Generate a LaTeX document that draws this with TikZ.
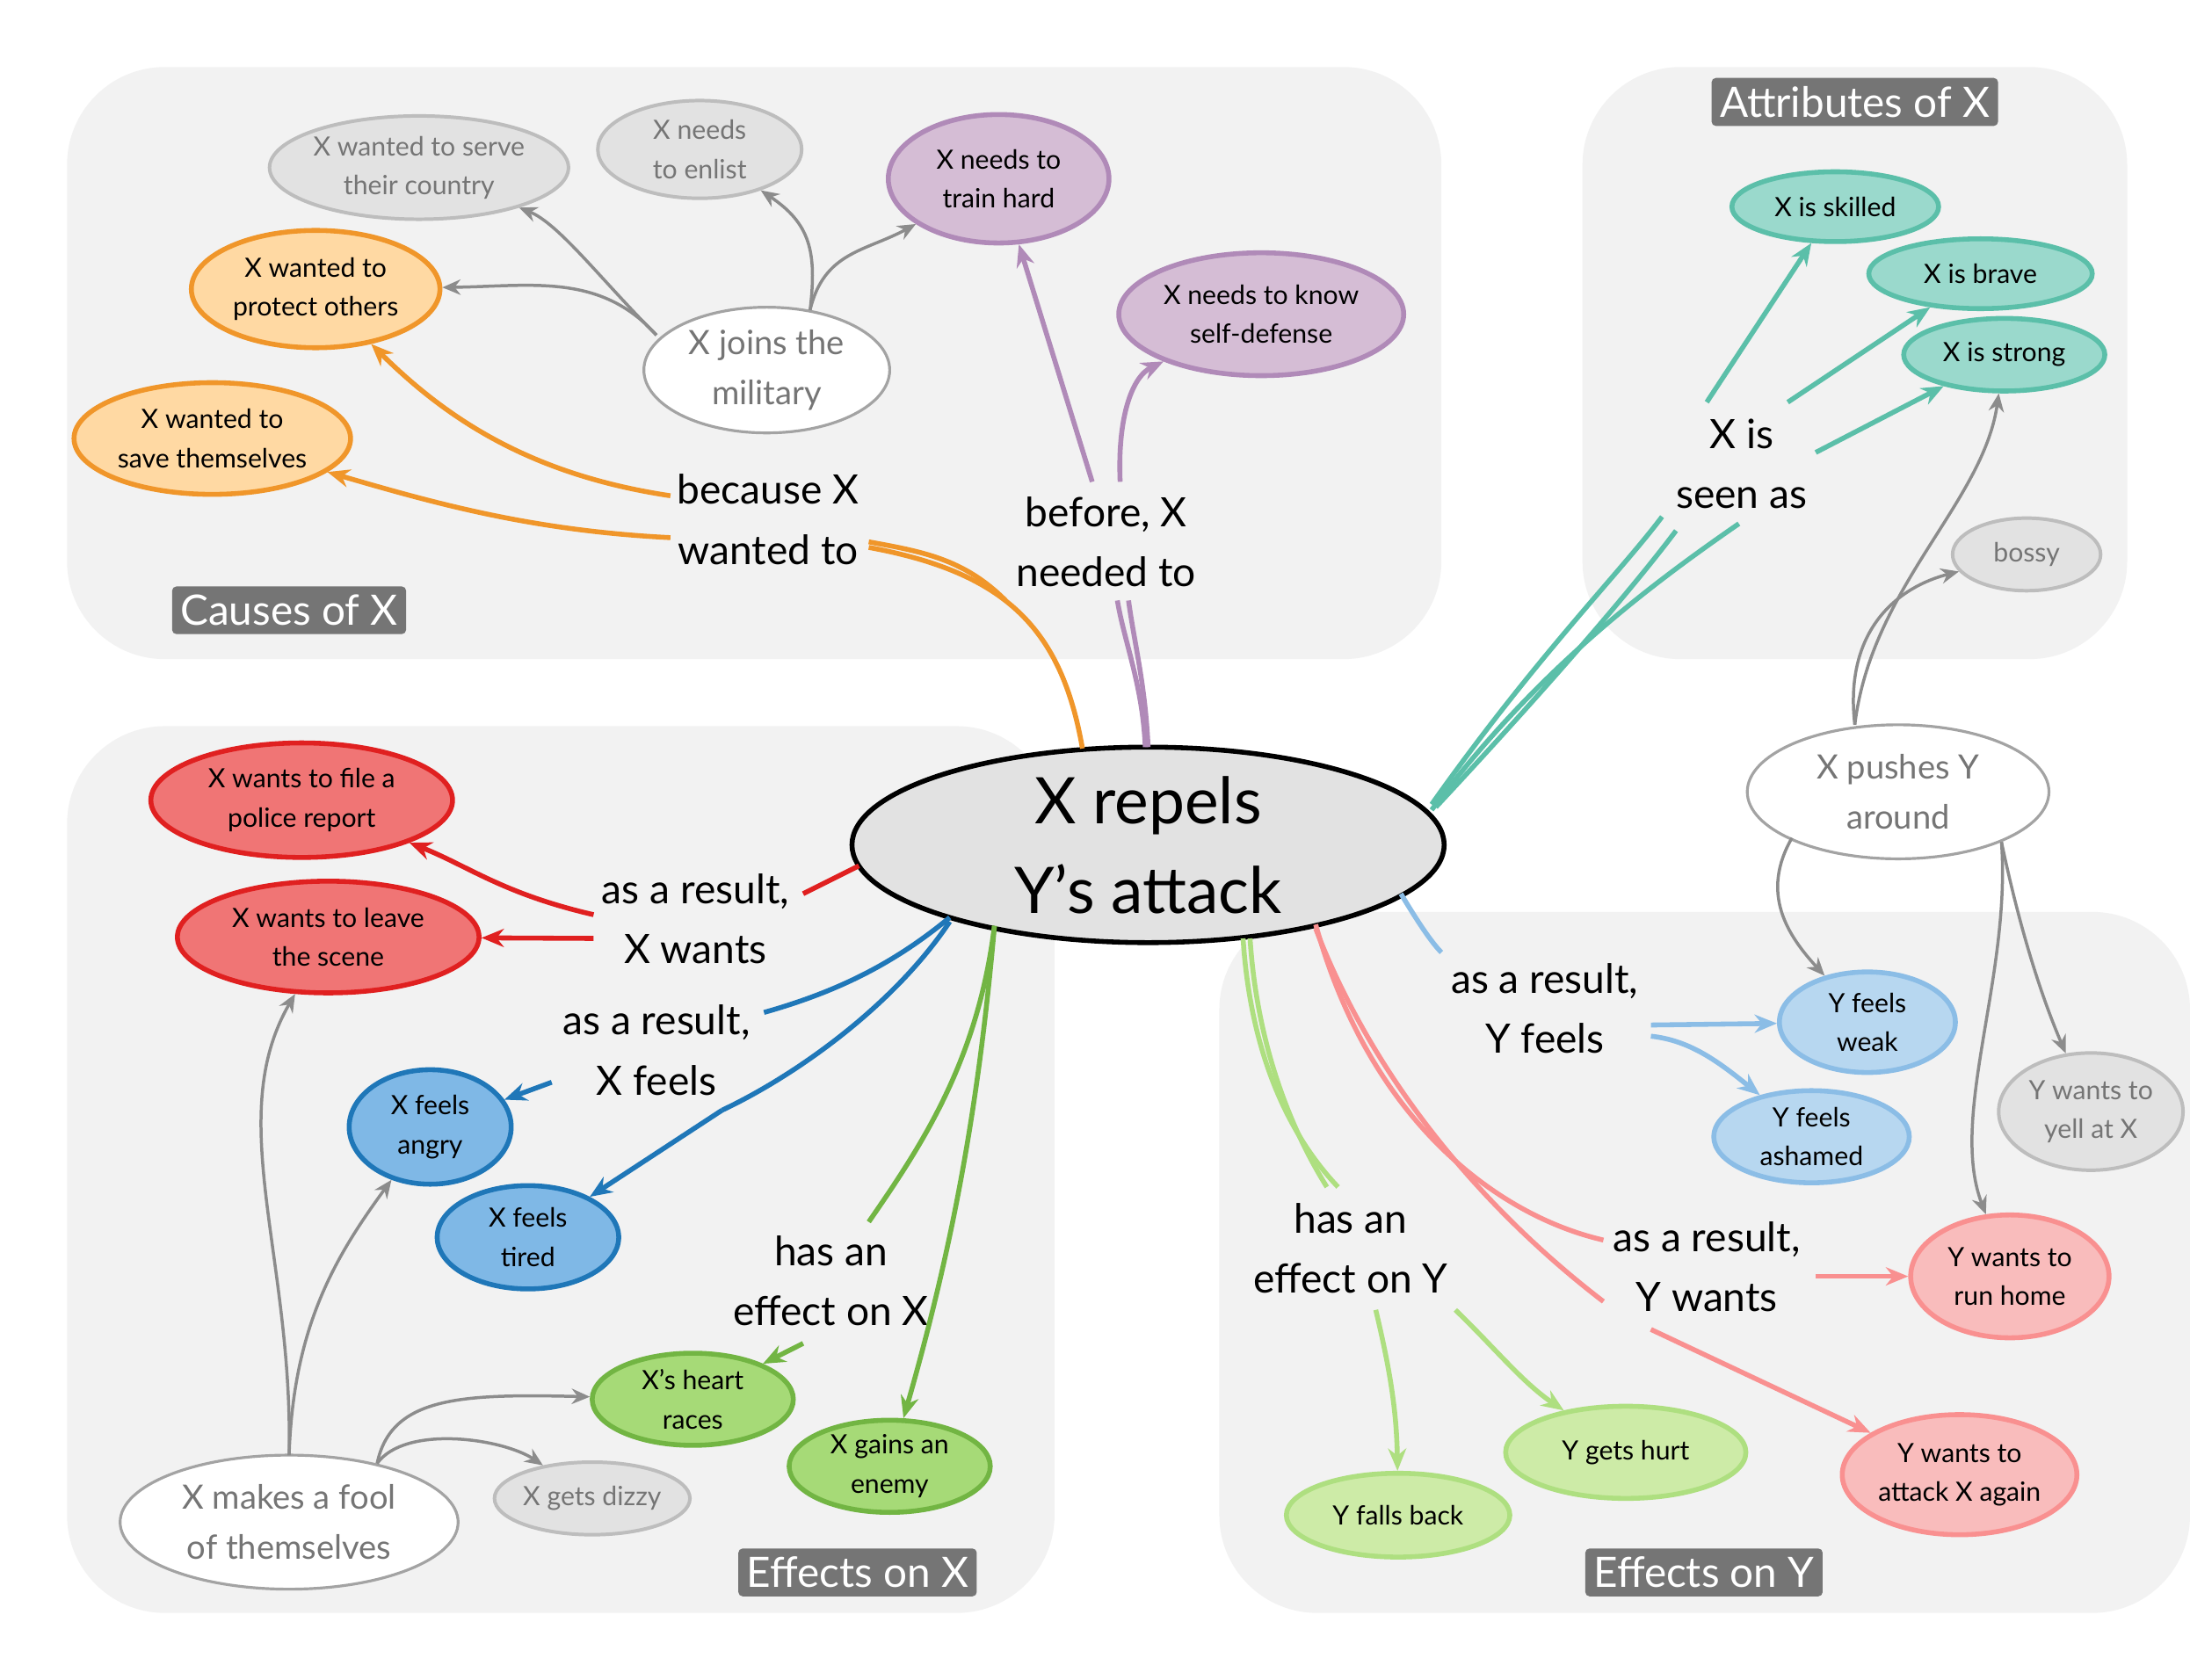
\documentclass[tikz,border=0pt]{standalone}
\usepackage{fontspec}
\setmainfont{Lato}
\usetikzlibrary{shapes.geometric,arrows.meta}
\definecolor{bg}{HTML}{F2F2F2}
\definecolor{tag}{HTML}{757575}
\definecolor{gfill}{HTML}{E2E2E2}\definecolor{gline}{HTML}{BDBDBD}\definecolor{gtext}{HTML}{757575}
\definecolor{pfill}{HTML}{D5BDD5}\definecolor{pline}{HTML}{B08AB8}
\definecolor{ofill}{HTML}{FFD9A3}\definecolor{oline}{HTML}{F0962A}
\definecolor{tfill}{HTML}{9AD9CC}\definecolor{tline}{HTML}{5BBFA9}
\definecolor{rfill}{HTML}{F07575}\definecolor{rline}{HTML}{E02020}
\definecolor{bfill}{HTML}{7FB8E6}\definecolor{bline}{HTML}{1F77B8}
\definecolor{Gfill}{HTML}{A6DA77}\definecolor{Gline}{HTML}{72B543}
\definecolor{lbfill}{HTML}{B7D7F0}\definecolor{lbline}{HTML}{8BBDE6}
\definecolor{pkfill}{HTML}{F9BCBC}\definecolor{pkline}{HTML}{F99090}
\definecolor{lgfill}{HTML}{CDEBA7}\definecolor{lgline}{HTML}{AEDF80}
\definecolor{edgegray}{HTML}{8C8C8C}
\tikzset{
 x=1pt,y=-1pt,
 el/.style n args={4}{ellipse,inner sep=0pt,minimum width=#1,minimum height=#2,fill=#3,draw=#4,line width=3.5pt,align=center,font=\fontsize{19}{28}\selectfont},
 gnode/.style 2 args={el={#1}{#2}{gfill}{gline},line width=2.5pt,text=gtext},
 wnode/.style 2 args={el={#1}{#2}{white}{edgegray!80},line width=2pt,text=gtext,font=\fontsize{24}{36}\selectfont},
 lab/.style={align=center,font=\fontsize{29}{43}\selectfont,inner sep=2pt},
 tagn/.style={fill=tag,text=white,font=\fontsize{30}{36}\selectfont,inner sep=6pt,rounded corners=3pt},
 arr/.style={line width=3.5pt,draw=#1,-{Stealth[length=16pt,width=13pt]}},
 ln/.style={line width=3.5pt,draw=#1},
 garr/.style={line width=2.2pt,draw=edgegray,-{Stealth[length=13pt,width=11pt]}},
 box/.style={fill=bg,rounded corners=70pt}
}
\begin{document}
\begin{tikzpicture}
\useasboundingbox (0,0) rectangle (1568,1203);
\fill[white] (0,0) rectangle (1568,1203);
\fill[box] (48,48) rectangle (1032,472);
\fill[box] (1133,48) rectangle (1523,472);
\fill[box] (48,520) rectangle (755,1155);
\fill[box] (873,653) rectangle (1568,1155);
\node[tagn] (t1) at (207,437) {Causes of X};
\node[tagn] (t2) at (1328,73) {Attributes of X};
\node[tagn] (t3) at (614,1126) {Effects on X};
\node[tagn] (t4) at (1220,1126) {Effects on Y};

% nodes
\node[gnode={200pt}{74pt}] (serve) at (300,120) {X wanted to serve\\their country};
\node[gnode={146pt}{70pt}] (enlist) at (501,107) {X needs\\to enlist};
\node[el={158pt}{92pt}{pfill}{pline}] (train) at (715,128) {X needs to\\train hard};
\node[el={204pt}{88pt}{pfill}{pline}] (self) at (903,225) {X needs to know\\self-defense};
\node[el={178pt}{84pt}{ofill}{oline}] (protect) at (226,207) {X wanted to\\protect others};
\node[el={198pt}{80pt}{ofill}{oline}] (save) at (152,314) {X wanted to\\save themselves};
\node[wnode={176pt}{90pt}] (mil) at (549,265) {X joins the\\military};
\node[el={148pt}{50pt}{tfill}{tline}] (skilled) at (1314,148) {X is skilled};
\node[el={160pt}{50pt}{tfill}{tline}] (brave) at (1418,196) {X is brave};
\node[el={144pt}{52pt}{tfill}{tline}] (strong) at (1435,254) {X is strong};
\node[gnode={106pt}{52pt}] (bossy) at (1451,397) {bossy};
\node[wnode={216pt}{96pt}] (push) at (1359,567) {X pushes Y\\around};
\node[el={216pt}{82pt}{rfill}{rline}] (file) at (216,573) {X wants to file a\\police report};
\node[el={216pt}{80pt}{rfill}{rline}] (leave) at (235,671) {X wants to leave\\the scene};
\node[el={116pt}{82pt}{bfill}{bline}] (angry) at (308,807) {X feels\\angry};
\node[el={130pt}{74pt}{bfill}{bline}] (tired) at (378,886) {X feels\\tired};
\node[el={144pt}{66pt}{Gfill}{Gline}] (heart) at (496,1002) {X's heart\\races};
\node[el={144pt}{66pt}{Gfill}{Gline}] (enemy) at (637,1050) {X gains an\\enemy};
\node[gnode={134pt}{52pt}] (dizzy) at (424,1073) {X gets dizzy};
\node[wnode={242pt}{96pt}] (fool) at (207,1090) {X makes a fool\\of themselves};
\node[el={126pt}{72pt}{lbfill}{lbline}] (weak) at (1337,732) {Y feels\\weak};
\node[el={140pt}{66pt}{lbfill}{lbline}] (ashamed) at (1297,814) {Y feels\\ashamed};
\node[gnode={132pt}{84pt}] (yell) at (1497,796) {Y wants to\\yell at X};
\node[el={142pt}{88pt}{pkfill}{pkline}] (run) at (1439,914) {Y wants to\\run home};
\node[el={168pt}{86pt}{pkfill}{pkline}] (again) at (1403,1056) {Y wants to\\attack X again};
\node[el={172pt}{66pt}{lgfill}{lgline}] (hurt) at (1164,1040) {Y gets hurt};
\node[el={160pt}{60pt}{lgfill}{lgline}] (falls) at (1001,1085) {Y falls back};

\node[ellipse,draw=black,fill=gfill,line width=3.5pt,minimum width=424pt,minimum height=140pt,inner sep=0pt,align=center,font=\fontsize{46}{64}\selectfont] (c) at (822,605) {X repels\\Y's attack};

% labels
\node[lab] (Lbec) at (550,372) {because X\\wanted to};
\node[lab] (Lbef) at (792,388) {before, X\\needed to};
\node[lab] (Lseen) at (1247,332) {X is\\seen as};
\node[lab] (Lxw) at (498,658) {as a result,\\X wants};
\node[lab] (Lxf) at (470,752) {as a result,\\X feels};
\node[lab] (Lex) at (595,917) {has an\\effect on X};
\node[lab] (Lyf) at (1106,722) {as a result,\\Y feels};
\node[lab] (Ley) at (967,894) {has an\\effect on Y};
\node[lab] (Lyw) at (1222,907) {as a result,\\Y wants};

% colored edges
\coordinate (cb) at (775,536);
\draw[ln=oline] (cb) .. controls (760,450) and (720,410) .. (622,392);
\draw[ln=oline] (720,430) .. controls (690,400) and (660,395) .. (622,388);
\draw[arr=oline] (480,355) .. controls (380,340) and (320,300) .. (protect);
\draw[arr=oline] (480,385) .. controls (380,380) and (310,360) .. (save);
\draw[ln=pline] (820,535) .. controls (818,490) and (805,460) .. (800,430);
\draw[ln=pline] (822,535) .. controls (820,490) and (812,460) .. (808,430);
\draw[arr=pline] (782,345) -- (train);
\draw[arr=pline] (802,345) .. controls (800,300) and (810,270) .. (self);
\draw[ln=tline] (1025,580) .. controls (1100,480) and (1180,420) .. (1245,375);
\draw[ln=tline] (1028,578) .. controls (1110,490) and (1170,420) .. (1200,380);
\draw[ln=tline] (1025,576) .. controls (1100,470) and (1160,410) .. (1190,370);
\draw[arr=tline] (1222,288) -- (skilled);
\draw[arr=tline] (1280,288) -- (brave);
\draw[arr=tline] (1300,324) -- (strong);
\draw[ln=rline] (615,620) -- (575,640);
\draw[arr=rline] (425,655) .. controls (360,640) and (335,620) .. (file);
\draw[arr=rline] (425,672) -- (leave);
\draw[ln=bline] (680,657) .. controls (640,690) and (600,710) .. (547,725);
\draw[ln=bline] (680,660) .. controls (640,720) and (570,770) .. (517,795);
\draw[arr=bline] (395,775) -- (angry);
\draw[arr=bline] (517,795) -- (tired);
\draw[ln=Gline] (712,663) .. controls (700,760) and (660,820) .. (622,875);
\draw[arr=Gline] (712,663) .. controls (700,800) and (680,900) .. (enemy);
\draw[arr=Gline] (575,962) -- (heart);
\draw[ln=lbline] (1003,640) .. controls (1015,660) and (1025,675) .. (1032,682);
\draw[arr=lbline] (1182,734) -- (weak);
\draw[arr=lbline] (1182,742) .. controls (1210,745) and (1230,760) .. (ashamed);
\draw[ln=lgline] (890,672) .. controls (895,750) and (920,810) .. (958,850);
\draw[ln=lgline] (895,672) .. controls (900,750) and (925,810) .. (950,850);
\draw[arr=lgline] (985,938) .. controls (995,980) and (1000,1010) .. (falls);
\draw[arr=lgline] (1042,938) .. controls (1070,965) and (1090,990) .. (hurt);
\draw[ln=pkline] (942,662) .. controls (980,800) and (1070,870) .. (1148,888);
\draw[ln=pkline] (942,665) .. controls (990,790) and (1080,880) .. (1148,932);
\draw[arr=pkline] (1300,914) -- (run);
\draw[arr=pkline] (1182,952) -- (again);

% gray edges
\draw[garr] (470,240) .. controls (430,200) and (400,160) .. (serve);
\draw[garr] (470,240) .. controls (430,195) and (380,205) .. (protect);
\draw[garr] (580,222) .. controls (585,180) and (580,160) .. (enlist);
\draw[garr] (580,222) .. controls (590,180) and (620,180) .. (train);
\draw[garr] (1328,519) .. controls (1320,450) and (1360,420) .. (bossy);
\draw[garr] (1328,519) .. controls (1340,420) and (1420,360) .. (strong);
\draw[garr] (1283,600) .. controls (1260,640) and (1280,670) .. (weak);
\draw[garr] (1433,603) .. controls (1445,660) and (1460,710) .. (yell);
\draw[garr] (1433,603) .. controls (1440,700) and (1395,800) .. (run);
\draw[garr] (207,1042) .. controls (210,900) and (160,800) .. (leave);
\draw[garr] (207,1042) .. controls (210,950) and (240,900) .. (angry);
\draw[garr] (270,1048) .. controls (280,1000) and (330,998) .. (heart);
\draw[garr] (270,1048) .. controls (290,1020) and (360,1030) .. (dizzy);
\end{tikzpicture}
\end{document}
